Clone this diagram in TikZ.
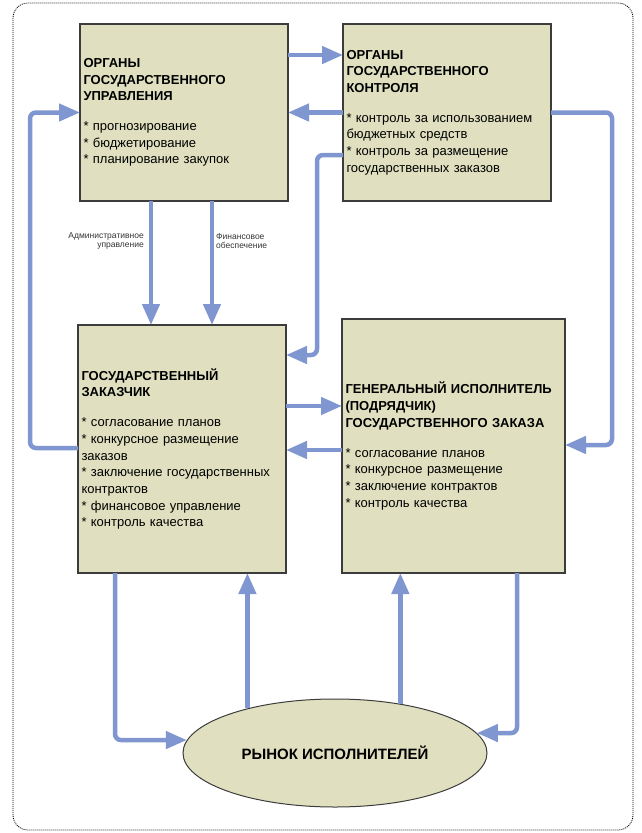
\documentclass[tikz,border=0pt]{standalone}
\usepackage{fontspec}
\setmainfont{Liberation Sans}
\usetikzlibrary{arrows.meta,shapes.geometric}
\definecolor{boxfill}{RGB}{224,224,192}
\definecolor{arrowc}{RGB}{127,150,208}
\definecolor{boxline}{RGB}{60,60,60}
\begin{document}
\begin{tikzpicture}[x=1pt,y=-1pt,
  blk/.style={draw=boxline,line width=1.3pt,fill=boxfill,rectangle,inner xsep=3.5pt,inner ysep=0pt,outer sep=0pt,align=left,font=\fontsize{13}{16.7}\selectfont},
  flow/.style={draw=arrowc,line width=4.5pt,rounded corners=6pt,-{Triangle[length=21pt,width=17pt]}},
  lab/.style={font=\fontsize{8.5}{9.5}\selectfont,text=black!80,inner sep=0pt}]
\useasboundingbox (0,0) rectangle (642,833);
\draw[black,line width=0.8pt,dash pattern=on 1pt off 1pt,rounded corners=15pt] (13,3) rectangle (633,830);

\node[blk,minimum width=208pt,minimum height=177pt,text width=201pt] (b1) at (184,112.5)
 {{\bfseries ОРГАНЫ\\ГОСУДАРСТВЕННОГО\\УПРАВЛЕНИЯ}\\[13pt]{}* прогнозирование\\{}* бюджетирование\\{}* планирование закупок};
\node[blk,minimum width=208pt,minimum height=177pt,text width=201pt] (b2) at (447,112.5)
 {{\bfseries ОРГАНЫ\\ГОСУДАРСТВЕННОГО\\КОНТРОЛЯ}\\[13pt]{}* контроль за использованием\\бюджетных средств\\{}* контроль за размещение\\государственных заказов};
\node[blk,minimum width=208pt,minimum height=248pt,text width=201pt] (b3) at (182,449)
 {{\bfseries ГОСУДАРСТВЕННЫЙ\\ЗАКАЗЧИК}\\[13pt]{}* согласование планов\\{}* конкурсное размещение\\заказов\\{}* заключение государственных\\контрактов\\{}* финансовое управление\\{}* контроль качества};
\node[blk,minimum width=223pt,minimum height=254pt,text width=216pt] (b4) at (453.5,446)
 {{\bfseries ГЕНЕРАЛЬНЫЙ ИСПОЛНИТЕЛЬ\\(ПОДРЯДЧИК)\\ГОСУДАРСТВЕННОГО ЗАКАЗА}\\[13pt]{}* согласование планов\\{}* конкурсное размещение\\{}* заключение контрактов\\{}* контроль качества};
\node[ellipse,draw=boxline,line width=1pt,fill=boxfill,minimum width=304pt,minimum height=108pt,inner sep=0pt,font=\bfseries\fontsize{15}{17}\selectfont] (ell) at (335,753) {РЫНОК ИСПОЛНИТЕЛЕЙ};

% top row
\draw[flow] ([yshift=57.5pt]b1.east) -- ([yshift=57.5pt]b2.west);
\draw[flow] (b2.west) -- (b1.east);
\coordinate (c3s) at ([yshift=-42.5pt]b2.west);
\coordinate (c3e) at ([yshift=94pt]b3.east);
\draw[flow] (c3s) -- ++(-26pt,0) |- (c3e);
\coordinate (c4s) at (b2.east);
\coordinate (c4e) at ([yshift=1pt]b4.east);
\draw[flow] (c4s) -- ++(61pt,0) |- (c4e);
\coordinate (c5s) at ([yshift=1pt]b3.west);
\draw[flow] (c5s) -- ++(-48pt,0) |- (b1.west);

% vertical from b1 to b3
\coordinate (c6a) at ([xshift=-33pt]b1.south);
\coordinate (c6b) at ([xshift=28pt]b1.south);
\draw[flow] (c6a) -- (c6a |- b3.north);
\draw[flow] (c6b) -- (c6b |- b3.north);
\node[lab,anchor=east,align=right] (l1) at (144,241) {Административное\\управление};
\node[lab,anchor=west,align=left] (l2) at (216,241) {Финансовое\\обеспечение};

% middle
\coordinate (c7) at ([yshift=43pt]b3.east);
\draw[flow] (c7) -- (c7 -| b4.west);
\coordinate (c8) at ([yshift=-1pt]b3.east);
\draw[flow] (c8 -| b4.west) -- (c8);

% bottom
\coordinate (c9) at ([xshift=-67pt]b3.south);
\draw[flow] (c9) |- (ell.175);
\draw[flow] (ell.153) -- (ell.153 |- b3.south);
\draw[flow] (ell.37) -- (ell.37 |- b4.south);
\coordinate (c12) at ([xshift=63.5pt]b4.south);
\draw[flow] (c12) |- (ell.8.5);
\end{tikzpicture}
\end{document}
